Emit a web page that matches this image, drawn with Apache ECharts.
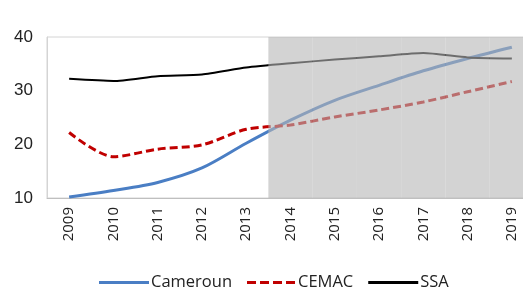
<!DOCTYPE html>
<html>
<head>
<meta charset="utf-8">
<script src="https://cdn.jsdelivr.net/npm/echarts@6/dist/echarts.min.js"></script>
<style>
  html, body { margin: 0; padding: 0; background: #fff; }
  #chart { width: 523px; height: 302px; }
</style>
</head>
<body>
<div id="chart"></div>
<script>
const years = ['2009', '2010', '2011', '2012', '2013', '2014', '2015', '2016', '2017', '2018', '2019'];
const cameroun = [10.2, 11.4, 12.9, 15.6, 20.2, 24.5, 28.2, 31.0, 33.7, 36.0, 38.1];
const cemac = [22.2, 17.7, 19.1, 19.9, 22.8, 23.6, 25.1, 26.4, 27.9, 29.8, 31.7];
const ssa = [32.2, 31.8, 32.7, 33.0, 34.3, 35.1, 35.8, 36.4, 37.0, 36.2, 36.0];
// projection years get the grey band
const projectionYears = ['2014', '2015', '2016', '2017', '2018', '2019'];
const yTicks = [10, 20, 30, 40];

const yMin = yTicks[0];
const yMax = yTicks[yTicks.length - 1];
const shade = years.map(y => projectionYears.includes(y) ? yMax : '-');

// legend icons drawn as plain line shapes (no marker)
const solidIcon = 'path://M0,0h50v3h-50z';
const dashIcon = 'path://M0,0h9v3h-9z M13,0h9v3h-9z M26,0h9v3h-9z M39,0h9v3h-9z';

const chart = echarts.init(document.getElementById('chart'));

const option = {
    animation: false,
    textStyle: { fontFamily: 'Open Sans' },
    grid: {
        left: 47,
        top: 37,
        width: 487,
        height: 161,
        outerBoundsMode: 'none',
        show: true,
        borderColor: '#d4d4d4',
        borderWidth: 1
    },
    legend: {
        bottom: 6,
        left: 94,
        data: [
            { name: 'Cameroun', icon: solidIcon },
            { name: 'CEMAC', icon: dashIcon },
            { name: 'SSA', icon: solidIcon }
        ],
        itemWidth: 50,
        itemHeight: 3,
        itemGap: 15,
        textStyle: { fontSize: 16.5, color: '#222', padding: [0, 0, 0, -3] }
    },
    xAxis: {
        type: 'category',
        data: years,
        axisLine: { lineStyle: { color: '#bfbfbf' } },
        axisTick: { inside: true, length: 5, lineStyle: { color: '#bfbfbf' } },
        axisLabel: {
            rotate: 90,
            fontSize: 15,
            color: '#222',
            margin: 9
        }
    },
    yAxis: {
        type: 'value',
        min: yMin,
        max: yMax,
        interval: 10,
        splitLine: { show: false },
        axisLine: { show: true, lineStyle: { color: '#d4d4d4' } },
        axisTick: { show: false },
        axisLabel: {
            fontFamily: 'Liberation Sans',
            fontSize: 17,
            color: '#222',
            margin: 14
        }
    },
    series: [
        {
            name: 'Cameroun',
            type: 'line',
            data: cameroun,
            smooth: 0.3,
            showSymbol: false,
            symbol: 'none',
            lineStyle: { color: '#4a7ec4', width: 3 },
            itemStyle: { color: '#4a7ec4' }
        },
        {
            name: 'CEMAC',
            type: 'line',
            data: cemac,
            smooth: 0.3,
            showSymbol: false,
            symbol: 'none',
            lineStyle: { color: '#c00000', width: 3, type: [8, 4] },
            itemStyle: { color: '#c00000' }
        },
        {
            name: 'SSA',
            type: 'line',
            data: ssa,
            smooth: 0.2,
            showSymbol: false,
            symbol: 'none',
            lineStyle: { color: '#000', width: 2 },
            itemStyle: { color: '#000' }
        },
        {
            name: 'projection',
            type: 'bar',
            data: shade,
            barCategoryGap: '0%',
            z: 5,
            silent: true,
            itemStyle: { color: 'rgba(182,182,182,0.6)' }
        }
    ]
};

chart.setOption(option);
</script>
</body>
</html>
